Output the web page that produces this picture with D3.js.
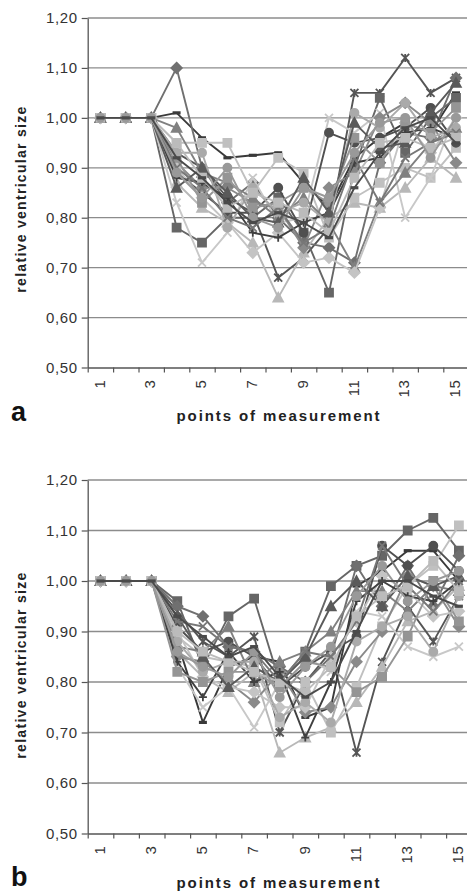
<!DOCTYPE html>
<html>
<head>
<meta charset="utf-8">
<script src="https://cdn.jsdelivr.net/npm/d3@7"></script>
<style>
  body { margin: 0; background: #fff; }
  svg { display: block; }
  text { font-family: "Liberation Sans", Arial, sans-serif; }
</style>
</head>
<body>
<svg id="chart" width="467" height="892"></svg>
<script>
// measurement points (categories) and axis ticks
const points = d3.range(1, 16);
const xTickLabels = points.map((p) => (p % 2 ? String(p) : ''));
const yTicks = [0.5, 0.6, 0.7, 0.8, 0.9, 1.0, 1.1, 1.2];

// panel a: relative ventricular size, one row per patient
const seriesA = [
  [1, 1, 1, 0.93, 0.90, 0.84, 0.81, 0.68, 0.72, 0.78, 1.05, 1.05, 1.12, 1.05, 1.08],
  [1, 1, 1, 1.01, 0.96, 0.92, 0.925, 0.93, 0.87, 0.82, 0.92, 0.96, 0.99, 0.97, 1.05],
  [1, 1, 1, 0.78, 0.75, 0.80, 0.80, 0.84, 0.77, 0.65, 0.90, 1.04, 0.93, 1.00, 1.04],
  [1, 1, 1, 1.10, 0.90, 0.83, 0.87, 0.80, 0.75, 0.74, 0.71, 0.91, 0.97, 0.96, 1.08],
  [1, 1, 1, 0.87, 0.82, 0.79, 0.75, 0.64, 0.73, 0.80, 0.83, 0.82, 0.86, 0.92, 0.88],
  [1, 1, 1, 0.95, 0.95, 0.95, 0.85, 0.92, 0.89, 0.76, 0.84, 0.87, 0.90, 0.88, 0.94],
  [1, 1, 1, 0.83, 0.71, 0.77, 0.88, 0.79, 0.80, 1.00, 0.97, 1.01, 0.80, 0.88, 1.01],
  [1, 1, 1, 0.89, 0.85, 0.81, 0.81, 0.86, 0.77, 0.97, 0.95, 0.96, 0.98, 1.02, 0.95],
  [1, 1, 1, 0.91, 0.86, 0.86, 0.83, 0.82, 0.74, 0.86, 0.89, 1.00, 1.03, 0.99, 0.91],
  [1, 1, 1, 0.98, 0.89, 0.87, 0.84, 0.80, 0.84, 0.79, 0.70, 0.83, 0.89, 0.95, 0.98],
  [1, 1, 1, 0.90, 0.84, 0.79, 0.73, 0.77, 0.71, 0.72, 0.69, 0.82, 0.99, 0.93, 1.00],
  [1, 1, 1, 0.88, 0.87, 0.84, 0.77, 0.76, 0.79, 0.81, 0.91, 0.92, 0.97, 0.98, 0.96],
  [1, 1, 1, 0.92, 0.83, 0.88, 0.82, 0.83, 0.86, 0.83, 0.96, 0.91, 0.99, 0.97, 1.02],
  [1, 1, 1, 0.93, 0.93, 0.78, 0.86, 0.81, 0.83, 0.79, 1.01, 0.98, 1.03, 0.96, 0.98],
  [1, 1, 1, 0.86, 0.90, 0.85, 0.80, 0.79, 0.88, 0.81, 0.99, 0.94, 0.95, 1.01, 1.07],
  [1, 1, 1, 0.90, 0.86, 0.80, 0.78, 0.82, 0.75, 0.78, 0.92, 0.83, 0.92, 0.95, 0.97],
  [1, 1, 1, 0.95, 0.88, 0.82, 0.85, 0.83, 0.81, 0.77, 0.88, 0.95, 0.96, 0.94, 0.96],
  [1, 1, 1, 0.89, 0.84, 0.90, 0.80, 0.78, 0.86, 0.84, 0.93, 0.99, 1.00, 0.92, 1.00],
  [1, 1, 1, 0.92, 0.88, 0.83, 0.79, 0.81, 0.79, 0.76, 0.86, 0.93, 0.98, 1.00, 0.95],
];

// panel b
const seriesB = [
  [1, 1, 1, 0.94, 0.88, 0.85, 0.89, 0.70, 0.80, 0.86, 0.66, 0.84, 0.95, 0.88, 0.97],
  [1, 1, 1, 0.88, 0.72, 0.83, 0.85, 0.84, 0.73, 0.75, 0.99, 1.02, 1.06, 1.06, 1.00],
  [1, 1, 1, 0.96, 0.83, 0.93, 0.965, 0.80, 0.86, 0.99, 1.03, 1.05, 1.10, 1.125, 1.06],
  [1, 1, 1, 0.95, 0.93, 0.87, 0.86, 0.83, 0.80, 0.85, 1.03, 0.95, 1.03, 0.95, 1.05],
  [1, 1, 1, 0.86, 0.81, 0.78, 0.82, 0.66, 0.69, 0.71, 0.76, 0.83, 0.92, 0.94, 0.99],
  [1, 1, 1, 0.89, 0.85, 0.84, 0.83, 0.72, 0.80, 0.70, 0.79, 0.91, 0.99, 1.03, 1.11],
  [1, 1, 1, 0.83, 0.75, 0.79, 0.71, 0.80, 0.85, 0.82, 0.94, 0.93, 0.87, 0.85, 0.87],
  [1, 1, 1, 0.91, 0.86, 0.88, 0.85, 0.79, 0.83, 0.86, 0.89, 1.07, 1.03, 1.07, 1.02],
  [1, 1, 1, 0.85, 0.84, 0.80, 0.76, 0.82, 0.74, 0.75, 0.84, 0.90, 1.01, 0.99, 0.91],
  [1, 1, 1, 0.87, 0.86, 0.91, 0.80, 0.84, 0.86, 0.90, 0.98, 0.98, 0.94, 0.99, 0.98],
  [1, 1, 1, 0.90, 0.81, 0.79, 0.78, 0.75, 0.75, 0.85, 0.92, 1.01, 0.98, 0.93, 0.94],
  [1, 1, 1, 0.84, 0.77, 0.86, 0.80, 0.82, 0.69, 0.80, 0.96, 1.00, 0.97, 0.96, 1.00],
  [1, 1, 1, 0.82, 0.80, 0.82, 0.82, 0.79, 0.84, 0.83, 0.78, 0.81, 0.89, 1.00, 0.92],
  [1, 1, 1, 0.88, 0.82, 0.84, 0.84, 0.73, 0.76, 0.72, 0.88, 0.91, 0.93, 0.86, 0.97],
  [1, 1, 1, 0.93, 0.85, 0.79, 0.83, 0.80, 0.85, 0.95, 1.00, 0.95, 1.01, 0.99, 1.01],
  [1, 1, 1, 0.92, 0.91, 0.87, 0.86, 0.80, 0.86, 0.85, 0.92, 1.07, 0.99, 0.94, 1.00],
  [1, 1, 1, 0.90, 0.86, 0.84, 0.82, 0.80, 0.78, 0.83, 0.93, 0.97, 0.99, 1.04, 0.98],
  [1, 1, 1, 0.86, 0.83, 0.81, 0.86, 0.77, 0.83, 0.87, 0.97, 1.03, 0.96, 1.00, 1.02],
  [1, 1, 1, 0.93, 0.89, 0.85, 0.87, 0.81, 0.77, 0.80, 0.90, 1.00, 1.00, 0.97, 0.95],
];

// grey shades and marker kinds, one per series (same order in both panels)
const shades = ['#555', '#3a3a3a', '#666', '#707070', '#b8b8b8', '#c0c0c0', '#c8c8c8', '#505050',
  '#8a8a8a', '#808080', '#c4c4c4', '#404040', '#959595', '#aaaaaa', '#5a5a5a', '#777',
  '#bbbbbb', '#999999', '#4a4a4a'];
const markers = ['asterisk', 'dash', 'square', 'diamond', 'triangle', 'square', 'x', 'circle',
  'diamond', 'triangle', 'diamond', 'plus', 'square', 'circle', 'triangle', 'x',
  'square', 'circle', 'dash'];

const svg = d3.select('#chart');
svg.append('rect').attr('width', 467).attr('height', 892).attr('fill', '#fff');

const fmt = (d) => d3.format('.2f')(d).replace('.', ',');

function markerPath(kind) {
  const s = 4;
  switch (kind) {
    case 'square': return `M${-s},${-s}h${2 * s}v${2 * s}h${-2 * s}Z`;
    case 'diamond': return `M0,${-s * 1.3}L${s * 1.3},0L0,${s * 1.3}L${-s * 1.3},0Z`;
    case 'triangle': return `M0,${-s * 1.2}L${s * 1.2},${s}L${-s * 1.2},${s}Z`;
    case 'circle': return d3.symbol(d3.symbolCircle, 52)();
    case 'x': return `M${-s},${-s}L${s},${s}M${-s},${s}L${s},${-s}`;
    case 'asterisk': return `M${-s},${-s}L${s},${s}M${-s},${s}L${s},${-s}M0,${-s}V${s}`;
    case 'plus': return `M${-s},0H${s}M0,${-s}V${s}`;
    default: return `M${-s},0H${s}`; // dash
  }
}
const filled = (k) => ['square', 'diamond', 'triangle', 'circle'].includes(k);

function drawPanel(cfg, data) {
  const g = svg.append('g');
  const x = d3.scaleLinear().domain([0.5, 15.5]).range([cfg.left, cfg.right]);
  const y = d3.scaleLinear().domain([0.5, 1.2]).range([cfg.bottom, cfg.top]);

  // horizontal gridlines
  g.selectAll('.grid')
    .data(yTicks.filter((t) => t > 0.5))
    .enter()
    .append('line')
    .attr('x1', cfg.left).attr('x2', cfg.right)
    .attr('y1', (d) => y(d)).attr('y2', (d) => y(d))
    .attr('stroke', '#8c8c8c')
    .attr('stroke-width', 1.3);

  // y axis
  const yAxis = g.append('g')
    .attr('transform', `translate(${cfg.left},0)`)
    .call(d3.axisLeft(y).tickValues(yTicks).tickSize(6).tickSizeOuter(0).tickFormat(fmt));
  yAxis.select('.domain').attr('stroke', '#555').attr('stroke-width', 1.3);
  yAxis.selectAll('.tick line').attr('stroke', '#555').attr('stroke-width', 1.2);
  yAxis.selectAll('.tick text')
    .attr('x', -10)
    .attr('fill', '#333')
    .style('font-size', '15px')
    .style('letter-spacing', '0.6px');

  // x axis: ticks between categories
  const xAxis = g.append('g')
    .attr('transform', `translate(0,${cfg.bottom})`)
    .call(d3.axisBottom(x).tickValues(d3.range(0.5, 16, 1)).tickSize(5).tickSizeOuter(0).tickFormat(''));
  xAxis.select('.domain').attr('stroke', '#555').attr('stroke-width', 1.3);
  xAxis.selectAll('.tick line').attr('stroke', '#555').attr('stroke-width', 1.2);

  g.selectAll('.xlab')
    .data(points)
    .enter()
    .append('text')
    .attr('transform', (d) => `translate(${x(d) - 1},${cfg.bottom + 12}) rotate(-90)`)
    .attr('text-anchor', 'end')
    .attr('dy', '0.35em')
    .attr('fill', '#333')
    .style('font-size', '15px')
    .style('letter-spacing', '0.6px')
    .text((d, i) => xTickLabels[i]);

  // series
  const line = d3.line().x((d, i) => x(points[i])).y((d) => y(d));
  data.forEach((vals, si) => {
    const sg = g.append('g');
    sg.append('path')
      .attr('d', line(vals))
      .attr('fill', 'none')
      .attr('stroke', shades[si])
      .attr('stroke-width', 1.9)
      .attr('stroke-linejoin', 'round');
    const kind = markers[si];
    sg.selectAll('path.m')
      .data(vals)
      .enter()
      .append('path')
      .attr('class', 'm')
      .attr('transform', (d, i) => `translate(${x(points[i])},${y(d)})`)
      .attr('d', markerPath(kind))
      .attr('fill', filled(kind) ? shades[si] : 'none')
      .attr('stroke', shades[si])
      .attr('stroke-width', kind === 'dash' ? 3.2 : 1.8);
  });

  // titles
  g.append('text')
    .attr('transform', `translate(26,${cfg.yLabelY}) rotate(-90)`)
    .attr('text-anchor', 'middle')
    .attr('fill', '#222')
    .style('font-size', '14px')
    .style('font-weight', 'bold')
    .style('letter-spacing', '1.3px')
    .text('relative ventricular size');

  g.append('text')
    .attr('x', 279)
    .attr('y', cfg.xTitleY)
    .attr('text-anchor', 'middle')
    .attr('fill', '#222')
    .style('font-size', '15px')
    .style('font-weight', 'bold')
    .style('letter-spacing', '1.9px')
    .text('points of measurement');

  g.append('text')
    .attr('x', 11)
    .attr('y', cfg.letterY)
    .attr('fill', '#111')
    .style('font-size', '27px')
    .style('font-weight', 'bold')
    .text(cfg.letter);
}

drawPanel({ left: 87.7, right: 468.7, top: 18, bottom: 367.5, yLabelY: 199, xTitleY: 421, letterY: 421, letter: 'a' }, seriesA);
drawPanel({ left: 87.7, right: 471.7, top: 480, bottom: 833.5, yLabelY: 665, xTitleY: 888, letterY: 886, letter: 'b' }, seriesB);
</script>
</body>
</html>
